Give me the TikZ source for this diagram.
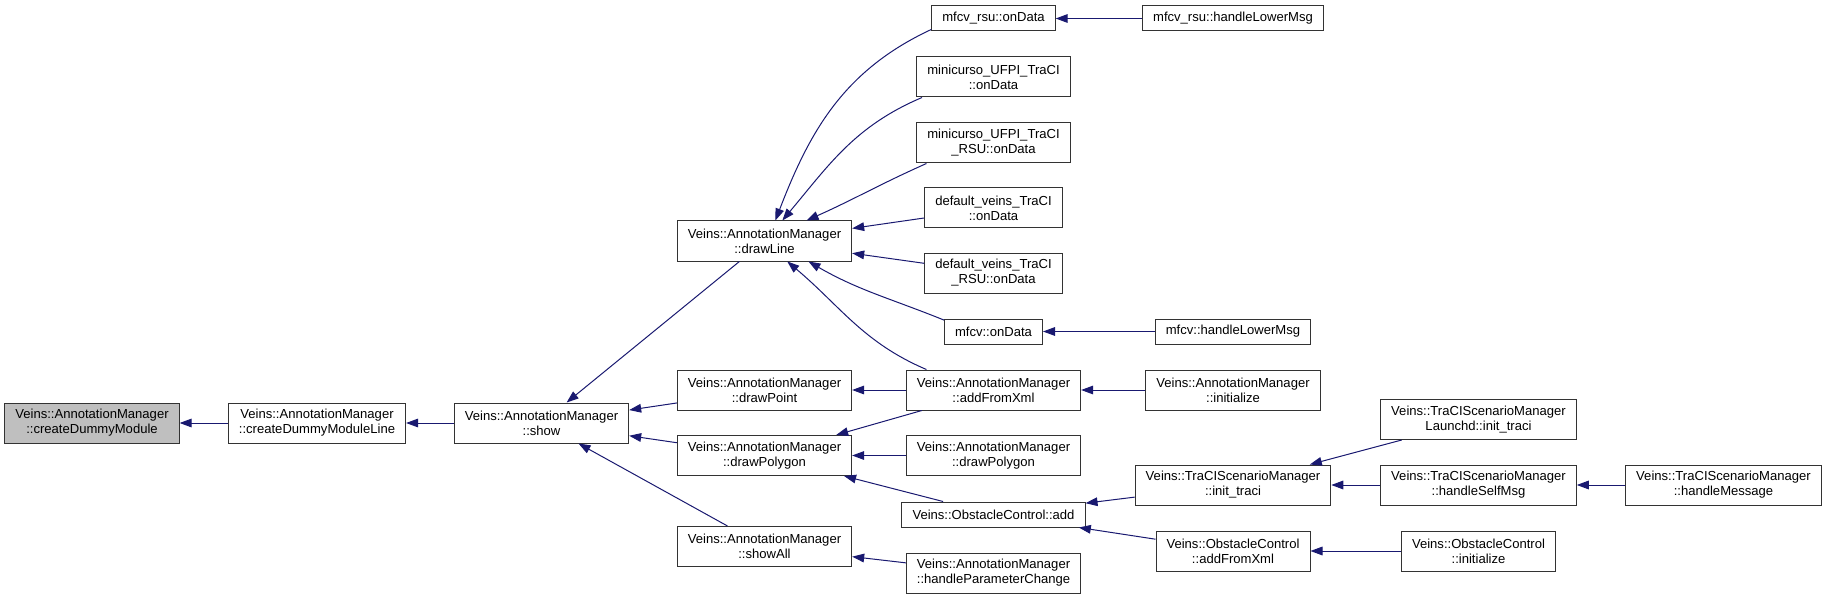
\documentclass[tikz,border=0pt]{standalone}
\usepackage{fontspec}
\setmainfont{Liberation Sans}
\definecolor{DoxyEdge}{HTML}{191970}
\definecolor{DoxyBorder}{HTML}{333333}
\definecolor{DoxyGrey}{HTML}{BFBFBF}
\definecolor{DoxyWhite}{HTML}{ffffff}
\usetikzlibrary{arrows.meta, positioning}
\tikzset{
    % Function box (two lines)
    func/.style={
        rectangle,
        draw=DoxyBorder,
        fill=DoxyWhite,
        line width=0.75pt,
        inner xsep=7.9pt,
        inner ysep=2pt,
        minimum height=30pt,
        align=center,
        font=\fontsize{9.8}{11.2}\selectfont
    },
    % Function box (one line)
    func1/.style={
        func,
        minimum height=18.75pt
    },
    % The function this graph is about
    current/.style={
        func,
        fill=DoxyGrey
    },
    % Call edge
    call/.style={
        -{Triangle[length=9pt, width=6.5pt]},
        line width=0.75pt,
        color=DoxyEdge
    }
}
\begin{document}
\begin{tikzpicture}[x=0.75pt, y=-0.75pt]
    \useasboundingbox (0,0) rectangle (1828,599);

    % Callee chain
    \node (dummy) [current] at (92,423) {Veins::AnnotationManager\\::createDummyModule};
    \node (dummyLine) [func] at (317,423) {Veins::AnnotationManager\\::createDummyModuleLine};
    \node (show) [func] at (541.5,423) {Veins::AnnotationManager\\::show};

    \node (drawLine) [func] at (764.5,241) {Veins::AnnotationManager\\::drawLine};
    \node (drawPoint) [func] at (764.5,390) {Veins::AnnotationManager\\::drawPoint};
    \node (drawPolygon) [func] at (764.5,455.5) {Veins::AnnotationManager\\::drawPolygon};
    \node (showAll) [func] at (764.5,546.5) {Veins::AnnotationManager\\::showAll};

    % Callers of drawLine and friends
    \node (rsuOnData) [func1] at (993.5,18.5) {mfcv\_rsu::onData};
    \node (mcOnData) [func] at (993.5,77) {minicurso\_UFPI\_TraCI\\::onData};
    \node (mcRsuOnData) [func] at (993.5,143) {minicurso\_UFPI\_TraCI\\\_RSU::onData};
    \node (dvOnData) [func] at (993.5,208) {default\_veins\_TraCI\\::onData};
    \node (dvRsuOnData) [func] at (993.5,273) {default\_veins\_TraCI\\\_RSU::onData};
    \node (mfcvOnData) [func1] at (993.5,331.5) {mfcv::onData};
    \node (addFromXml) [func] at (993.5,390) {Veins::AnnotationManager\\::addFromXml};
    \node (drawPolygonB) [func] at (993.5,455.5) {Veins::AnnotationManager\\::drawPolygon};
    \node (obsAdd) [func1] at (993.5,514.5) {Veins::ObstacleControl::add};
    \node (paramChange) [func] at (993.5,573) {Veins::AnnotationManager\\::handleParameterChange};

    \node (rsuLowerMsg) [func1] at (1233,18.5) {mfcv\_rsu::handleLowerMsg};
    \node (mfcvLowerMsg) [func1] at (1233,331.5) {mfcv::handleLowerMsg};
    \node (amInit) [func] at (1233,390) {Veins::AnnotationManager\\::initialize};
    \node (tsmInit) [func] at (1233,485) {Veins::TraCIScenarioManager\\::init\_traci};
    \node (obsXml) [func] at (1233,551) {Veins::ObstacleControl\\::addFromXml};

    \node (launchdInit) [func] at (1478.5,419.5) {Veins::TraCIScenarioManager\\Launchd::init\_traci};
    \node (selfMsg) [func] at (1478.5,485) {Veins::TraCIScenarioManager\\::handleSelfMsg};
    \node (obsInit) [func] at (1478.5,551) {Veins::ObstacleControl\\::initialize};

    \node (handleMsg) [func] at (1723.5,485) {Veins::TraCIScenarioManager\\::handleMessage};

    % Calls
    \draw [call] (dummyLine) -- (dummy);
    \draw [call] (show) -- (dummyLine);
    \draw [call] (drawLine) -- (show);
    \draw [call] (drawPoint) -- (show);
    \draw [call] (drawPolygon) -- (show);
    \draw [call] (showAll) -- (show);

    \draw [call] (rsuOnData.190) to[out=205, in=69] (drawLine.62);
    \draw [call] (mcOnData.196) to[out=203, in=50] (drawLine.49);
    \draw [call] (mcRsuOnData.197) to[out=204, in=24] (drawLine.26);
    \draw [call] (dvOnData) -- (drawLine);
    \draw [call] (dvRsuOnData) -- (drawLine);
    \draw [call] (mfcvOnData.167) to[out=158, in=-30] (drawLine.-25);
    \draw [call] (addFromXml.163) to[out=157, in=-40] (drawLine.-42);
    \draw [call] (addFromXml) -- (drawPoint);
    \draw [call] (addFromXml) -- (drawPolygon);
    \draw [call] (drawPolygonB) -- (drawPolygon);
    \draw [call] (obsAdd) -- (drawPolygon);
    \draw [call] (paramChange) -- (showAll);

    \draw [call] (rsuLowerMsg) -- (rsuOnData);
    \draw [call] (mfcvLowerMsg) -- (mfcvOnData);
    \draw [call] (amInit) -- (addFromXml);
    \draw [call] (tsmInit) -- (obsAdd);
    \draw [call] (obsXml) -- (obsAdd);

    \draw [call] (launchdInit) -- (tsmInit);
    \draw [call] (selfMsg) -- (tsmInit);
    \draw [call] (obsInit) -- (obsXml);
    \draw [call] (handleMsg) -- (selfMsg);
\end{tikzpicture}
\end{document}
